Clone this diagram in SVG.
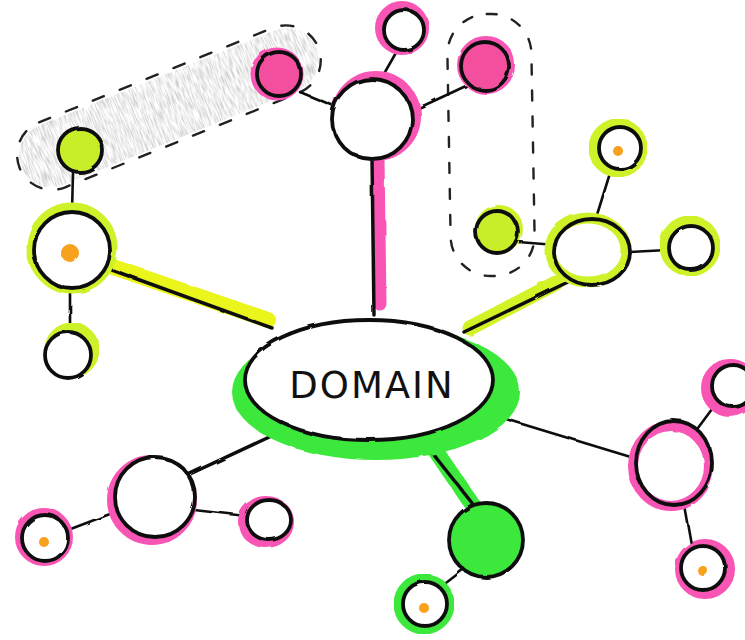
<svg xmlns="http://www.w3.org/2000/svg" width="745" height="640" viewBox="0 0 745 640">
<defs>
<filter id="rough" x="-10%" y="-10%" width="120%" height="120%">
<feTurbulence type="fractalNoise" baseFrequency="0.04" numOctaves="2" seed="3"/>
<feDisplacementMap in="SourceGraphic" scale="3"/>
</filter>
<filter id="grain" x="-10%" y="-10%" width="120%" height="120%">
<feTurbulence type="fractalNoise" baseFrequency="0.9 0.08" numOctaves="2" seed="5" result="n"/>
<feColorMatrix in="n" type="matrix" values="0 0 0 0 0.6  0 0 0 0 0.6  0 0 0 0 0.6  0 0 0 -2.6 1.6" result="g"/>
<feComposite in="g" in2="SourceGraphic" operator="in"/>
</filter>
</defs>
<style>
.ink{fill:none;stroke:#111;stroke-width:3.5;stroke-linecap:round;stroke-linejoin:round}
.thin{fill:none;stroke:#111;stroke-width:2.6;stroke-linecap:round}
.node{stroke:#111;stroke-width:3.8}
.w{fill:#fff}
.pinkhalo{fill:none;stroke:#f955b4;stroke-width:10}
.limehalo{fill:none;stroke:#cdf22a;stroke-width:11}
.greenhalo{fill:none;stroke:#3ee83c;stroke-width:11}
.dot{fill:#f7a11f}
.dash{fill:none;stroke:#222;stroke-width:2.4;stroke-linecap:round}
.label{font-family:"DejaVu Sans","Liberation Sans",sans-serif;font-size:37px;fill:#111;letter-spacing:2px}
</style>
<rect width="745" height="640" fill="#fff"/>

<!-- grey scribble group (top-left) -->
<g id="group-left" transform="translate(168,108) rotate(-22)">
<rect x="-158" y="-32" width="318" height="64" rx="32" fill="#e4e4e4" filter="url(#grain)"/>
<rect x="-160" y="-35" width="322" height="70" rx="35" class="dash" stroke-width="3.5" stroke-dasharray="12 17"/>
</g>

<!-- dashed group (right) -->
<g id="group-right">
<rect x="449" y="14" width="84" height="262" rx="40" class="dash" stroke-dasharray="10 16" transform="rotate(-1 490 145)"/>
</g>

<g id="connectors" filter="url(#rough)">
<line x1="378" y1="160" x2="380" y2="304" stroke="#f955b4" stroke-width="13" stroke-linecap="round"/>
<line x1="110" y1="266" x2="268" y2="320" stroke="#eaf51c" stroke-width="16" stroke-linecap="round"/>
<line x1="470" y1="328" x2="556" y2="283" stroke="#d4f226" stroke-width="15" stroke-linecap="round"/>
<line x1="420" y1="428" x2="476" y2="510" stroke="#3ee83c" stroke-width="16" stroke-linecap="round"/>
<line class="ink" x1="372" y1="158" x2="374" y2="315"/>
<line class="thin" x1="381" y1="79" x2="397" y2="51"/>
<line class="thin" x1="410" y1="112" x2="468" y2="85"/>
<line class="thin" x1="300" y1="92" x2="334" y2="106"/>
<line class="thin" x1="73" y1="172" x2="72" y2="212"/>
<line class="ink" x1="112" y1="270" x2="272" y2="328"/>
<line class="thin" x1="70" y1="290" x2="70" y2="331"/>
<line class="ink" x1="464" y1="332" x2="568" y2="282"/>
<line class="thin" x1="518" y1="242" x2="556" y2="245"/>
<line class="thin" x1="611" y1="170" x2="596" y2="218"/>
<line class="thin" x1="630" y1="252" x2="667" y2="250"/>
<line class="ink" x1="280" y1="432" x2="190" y2="474"/>
<line class="thin" x1="68" y1="530" x2="110" y2="514"/>
<line class="thin" x1="194" y1="510" x2="246" y2="516"/>
<line class="ink" x1="414" y1="430" x2="476" y2="508"/>
<line class="thin" x1="468" y1="566" x2="442" y2="586"/>
<line class="thin" x1="486" y1="413" x2="634" y2="458"/>
<line class="thin" x1="695" y1="432" x2="715" y2="405"/>
<line class="thin" x1="684" y1="505" x2="692" y2="550"/>
</g>

<!-- central node -->
<g id="domain">
<ellipse cx="376" cy="392" rx="144" ry="68" fill="#3ee83c" filter="url(#rough)"/>
<ellipse cx="369" cy="380" rx="124" ry="60" class="node w" filter="url(#rough)"/>
<text class="label" x="372" y="398" text-anchor="middle">DOMAIN</text>
</g>

<g id="pink-top" filter="url(#rough)">
<circle cx="376" cy="116" r="40" class="pinkhalo"/>
<circle cx="372" cy="119" r="40" class="node w"/>
</g>
<g id="pink-top-small" filter="url(#rough)">
<circle cx="402" cy="28" r="22" class="pinkhalo"/>
<circle cx="404" cy="30" r="20" class="node w"/>
</g>
<g id="pink-top-right" filter="url(#rough)">
<circle cx="486" cy="65" r="26" fill="#f4509e" stroke="#f955b4" stroke-width="6"/>
<circle cx="485" cy="66" r="24" class="node" fill="none"/>
</g>
<g id="pink-top-left" filter="url(#rough)">
<circle cx="277" cy="74" r="24" fill="#f4509e" stroke="#f955b4" stroke-width="5"/>
<circle cx="279" cy="74" r="22" class="node" fill="none"/>
</g>

<g id="lime-top-left" filter="url(#rough)">
<circle cx="80" cy="150" r="22" fill="#c8ee2a" class="node"/>
</g>
<g id="lime-left" filter="url(#rough)">
<circle cx="72" cy="248" r="40" class="limehalo"/>
<circle cx="72" cy="250" r="38" class="node w"/>
<circle cx="70" cy="253" r="9" class="dot"/>
</g>
<g id="lime-left-bottom" filter="url(#rough)">
<circle cx="72" cy="350" r="22" class="limehalo" stroke-width="7"/>
<circle cx="68" cy="355" r="23" class="node w"/>
</g>

<g id="lime-right" filter="url(#rough)">
<ellipse cx="588" cy="250" rx="38" ry="32" class="limehalo" stroke-width="14"/>
<ellipse cx="592" cy="252" rx="38" ry="33" class="node" fill="none"/>
</g>
<g id="lime-right-filled" filter="url(#rough)">
<circle cx="499" cy="229" r="24" fill="#cdf22a"/>
<circle cx="497" cy="232" r="21" fill="#c8ee2a" class="node"/>
</g>
<g id="lime-right-top" filter="url(#rough)">
<circle cx="618" cy="148" r="24" class="limehalo" stroke-width="9"/>
<circle cx="620" cy="148" r="21" class="node w"/>
<circle cx="618" cy="151" r="5" class="dot"/>
</g>
<g id="lime-right-right" filter="url(#rough)">
<circle cx="690" cy="246" r="25" class="limehalo" stroke-width="10"/>
<circle cx="691" cy="248" r="22" class="node w"/>
</g>

<g id="pink-bottom-left" filter="url(#rough)">
<circle cx="152" cy="500" r="40" class="pinkhalo"/>
<circle cx="155" cy="497" r="40" class="node w"/>
</g>
<g id="pink-bottom-left-small" filter="url(#rough)">
<circle cx="44" cy="537" r="24" class="pinkhalo" stroke-width="9"/>
<circle cx="45" cy="538" r="23" class="node w"/>
<circle cx="44" cy="542" r="5" class="dot"/>
</g>
<g id="pink-bottom-right-small" filter="url(#rough)">
<ellipse cx="266" cy="522" rx="23" ry="21" class="pinkhalo" stroke-width="10"/>
<ellipse cx="269" cy="520" rx="22" ry="20" class="node w"/>
<ellipse cx="266" cy="521" rx="9" ry="12" fill="#fff" transform="rotate(30 266 521)"/>
</g>

<g id="green-bottom" filter="url(#rough)">
<circle cx="486" cy="540" r="37" fill="#3ee83c" class="node"/>
</g>
<g id="green-bottom-small" filter="url(#rough)">
<circle cx="424" cy="604" r="25" class="greenhalo" stroke-width="9"/>
<circle cx="425" cy="604" r="22" class="node w"/>
<circle cx="424" cy="608" r="5" class="dot"/>
</g>

<g id="pink-right" filter="url(#rough)">
<ellipse cx="671" cy="466" rx="38" ry="40" class="pinkhalo" stroke-width="12"/>
<ellipse cx="674" cy="463" rx="38" ry="42" class="node" fill="none"/>
</g>
<g id="pink-right-top" filter="url(#rough)">
<circle cx="730" cy="388" r="24" class="pinkhalo" stroke-width="10"/>
<circle cx="733" cy="386" r="21" class="node w"/>
</g>
<g id="pink-right-bottom" filter="url(#rough)">
<circle cx="705" cy="569" r="25" class="pinkhalo" stroke-width="10"/>
<circle cx="703" cy="568" r="22" class="node w"/>
<circle cx="703" cy="571" r="5" class="dot"/>
</g>
</svg>
